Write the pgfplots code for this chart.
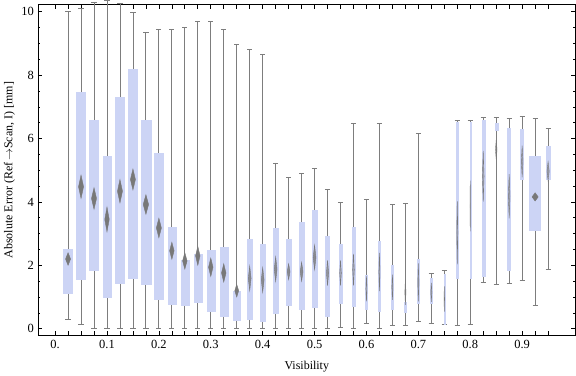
\documentclass[border=0pt]{standalone}
\usepackage{fontspec}
\setmainfont{Liberation Serif}
\usepackage{pgfplots}
\pgfplotsset{compat=1.18}
\usepgfplotslibrary{statistics}
\definecolor{boxblue}{RGB}{204,212,245}
\definecolor{whisk}{RGB}{125,125,125}
\definecolor{diam}{RGB}{120,120,120}
\pgfkeys{/pgfplots/boxplot/dh/.initial=0.3}
\pgfkeys{/pgfplots/boxplot/dop/.initial=1}
\pgfplotsset{
  /pgfplots/boxplot/draw direction=y,
  /pgfplots/boxplot/draw/box/.code={%
    \fill[boxblue] (boxplot box cs:\pgfplotsboxplotvalue{lower quartile},0) rectangle (boxplot box cs:\pgfplotsboxplotvalue{upper quartile},1);},
  /pgfplots/boxplot/draw/median/.code={%
    \pgfmathsetmacro\dlo{\pgfplotsboxplotvalue{median}-\pgfkeysvalueof{/pgfplots/boxplot/dh}}%
    \pgfmathsetmacro\dhi{\pgfplotsboxplotvalue{median}+\pgfkeysvalueof{/pgfplots/boxplot/dh}}%
    \fill[diam,fill opacity=\pgfkeysvalueof{/pgfplots/boxplot/dop}] (boxplot box cs:\dlo,0.5) -- (boxplot box cs:\pgfplotsboxplotvalue{median},0.22) -- (boxplot box cs:\dhi,0.5) -- (boxplot box cs:\pgfplotsboxplotvalue{median},0.78) -- cycle;},
  /pgfplots/boxplot/draw/lower whisker/.code={%
    \draw[whisk,line width=0.85pt] (boxplot whisker cs:\pgfplotsboxplotvalue{lower whisker},0) -- (boxplot whisker cs:\pgfplotsboxplotvalue{lower whisker},1);
    \draw[whisk,line width=0.85pt] (boxplot box cs:\pgfplotsboxplotvalue{lower whisker},0.5) -- (boxplot box cs:\pgfplotsboxplotvalue{lower quartile},0.5);},
  /pgfplots/boxplot/draw/upper whisker/.code={%
    \draw[whisk,line width=0.85pt] (boxplot whisker cs:\pgfplotsboxplotvalue{upper whisker},0) -- (boxplot whisker cs:\pgfplotsboxplotvalue{upper whisker},1);
    \draw[whisk,line width=0.85pt] (boxplot box cs:\pgfplotsboxplotvalue{upper whisker},0.5) -- (boxplot box cs:\pgfplotsboxplotvalue{upper quartile},0.5);},
}
% position, lower whisker, q1, median(diamond), q3, upper whisker, box width, diamond half height, diamond opacity
\newcommand{\bx}[9]{\addplot[boxplot prepared={draw direction=y, draw position=#1, lower whisker=#2, lower quartile=#3, median=#4, upper quartile=#5, upper whisker=#6, box extend=#7, whisker extend=0.010, dh=#8, dop=#9}] coordinates {};}
\begin{document}
\fontsize{12}{14}\selectfont
\begin{tikzpicture}
\begin{axis}[
  scale only axis, width=539pt, height=332pt,
  xmin=-0.033, xmax=1.003, ymin=-0.22, ymax=10.23,
  clip=false,
  tick align=inside,
  xtick={0,0.025,0.05,0.075,0.1,0.125,0.15,0.175,0.2,0.225,0.25,0.275,0.3,0.325,0.35,0.375,0.4,0.425,0.45,0.475,0.5,0.525,0.55,0.575,0.6,0.625,0.65,0.675,0.7,0.725,0.75,0.775,0.8,0.825,0.85,0.875,0.9,0.925,0.95},
  xticklabels={0.,,,,0.1,,,,0.2,,,,0.3,,,,0.4,,,,0.5,,,,0.6,,,,0.7,,,,0.8,,,,0.9,,},
  ytick={0,2,4,6,8,10},
  yticklabels={0,2,4,6,8,10},
  minor ytick={0.5,1,1.5,2.5,3,3.5,4.5,5,5.5,6.5,7,7.5,8.5,9,9.5},
  major tick length=4.5pt, minor tick length=2.5pt,
  tick style={black, line width=0.7pt},
  axis line style={black, line width=0.8pt},
  xlabel={Visibility},
  ylabel={Absolute Error (Ref\,$\rightarrow$Scan, I) [mm]},
  xlabel style={at={(axis description cs:0.5,-0.093)}, anchor=center},
  ylabel style={at={(axis description cs:-0.053,0.5)}, anchor=center, rotate=0},
  ticklabel style={font=\fontsize{12.5}{14}\selectfont},
  label style={font=\fontsize{12}{14}\selectfont},
]
\bx{0.025}{0.30}{1.11}{2.20}{2.51}{10.00}{0.0173}{0.20}{1}
\bx{0.050}{0.13}{1.55}{4.48}{7.47}{10.10}{0.0173}{0.37}{1}
\bx{0.075}{0.00}{1.86}{4.11}{6.59}{10.30}{0.0173}{0.34}{1}
\bx{0.100}{0.00}{1.01}{3.45}{5.46}{10.36}{0.0154}{0.39}{1}
\bx{0.125}{0.00}{1.45}{4.34}{7.30}{10.25}{0.0173}{0.37}{1}
\bx{0.150}{0.00}{1.61}{4.71}{8.19}{9.97}{0.0173}{0.33}{1}
\bx{0.175}{0.00}{1.39}{3.92}{6.59}{9.34}{0.0185}{0.31}{1}
\bx{0.200}{0.00}{0.94}{3.18}{5.54}{9.45}{0.0173}{0.31}{1}
\bx{0.225}{0.00}{0.76}{2.46}{3.19}{9.43}{0.0154}{0.27}{1}
\bx{0.250}{0.00}{0.73}{2.14}{2.17}{9.50}{0.0154}{0.26}{1}
\bx{0.275}{0.00}{0.85}{2.30}{2.35}{9.69}{0.0154}{0.30}{1}
\bx{0.300}{0.00}{0.56}{1.94}{2.48}{9.69}{0.0154}{0.29}{1}
\bx{0.325}{0.00}{0.39}{1.76}{2.56}{9.43}{0.0154}{0.29}{1}
\bx{0.350}{0.00}{0.26}{1.20}{1.18}{8.96}{0.0135}{0.20}{1}
\bx{0.375}{0.00}{0.29}{1.59}{2.82}{8.81}{0.0096}{0.39}{0.8}
\bx{0.400}{0.00}{0.23}{1.54}{2.67}{8.65}{0.0096}{0.39}{0.8}
\bx{0.425}{0.00}{0.49}{1.88}{3.17}{5.23}{0.0096}{0.39}{0.8}
\bx{0.450}{0.00}{0.73}{1.80}{2.82}{4.76}{0.0096}{0.25}{0.8}
\bx{0.475}{0.00}{0.61}{1.80}{3.36}{4.89}{0.0096}{0.30}{0.8}
\bx{0.500}{0.00}{0.68}{2.25}{3.73}{5.07}{0.0096}{0.39}{0.8}
\bx{0.525}{0.00}{0.39}{1.76}{2.91}{4.39}{0.0077}{0.40}{0.7}
\bx{0.550}{0.05}{0.81}{1.76}{2.67}{3.99}{0.0058}{0.40}{0.5}
\bx{0.575}{0.00}{0.71}{1.86}{3.20}{6.48}{0.0058}{0.50}{0.5}
\bx{0.600}{0.16}{0.61}{1.26}{1.69}{4.07}{0.0038}{0.40}{0.4}
\bx{0.625}{0.00}{0.54}{1.79}{2.76}{6.48}{0.0038}{0.60}{0.4}
\bx{0.650}{0.09}{0.61}{1.31}{1.99}{3.91}{0.0038}{0.40}{0.4}
\bx{0.675}{0.09}{0.51}{1.15}{0.84}{3.95}{0.0038}{0.40}{0.3}
\bx{0.700}{0.22}{0.81}{1.46}{2.20}{6.17}{0.0038}{0.60}{0.4}
\bx{0.725}{0.16}{0.81}{1.15}{1.59}{1.75}{0.0038}{0.30}{0.3}
\bx{0.750}{0.13}{0.13}{0.94}{1.72}{1.83}{0.0019}{0.40}{0.3}
\bx{0.775}{0.12}{1.61}{3.03}{6.52}{6.56}{0.0038}{1.00}{0.4}
\bx{0.800}{0.13}{1.61}{3.87}{6.52}{6.56}{0.0019}{0.80}{0.3}
\bx{0.825}{1.45}{1.67}{4.81}{6.59}{6.66}{0.0058}{0.80}{0.5}
\bx{0.850}{1.41}{6.25}{5.65}{6.48}{6.68}{0.0058}{0.30}{0.25}
\bx{0.875}{1.43}{1.85}{4.18}{6.34}{6.64}{0.0058}{0.70}{0.5}
\bx{0.900}{1.54}{4.71}{5.28}{6.30}{6.70}{0.0058}{0.50}{0.5}
\bx{0.925}{0.75}{3.12}{4.16}{5.43}{6.64}{0.0212}{0.13}{1}
\bx{0.950}{1.88}{4.71}{4.97}{5.77}{6.33}{0.0077}{0.30}{0.6}
\end{axis}
\end{tikzpicture}
\end{document}
